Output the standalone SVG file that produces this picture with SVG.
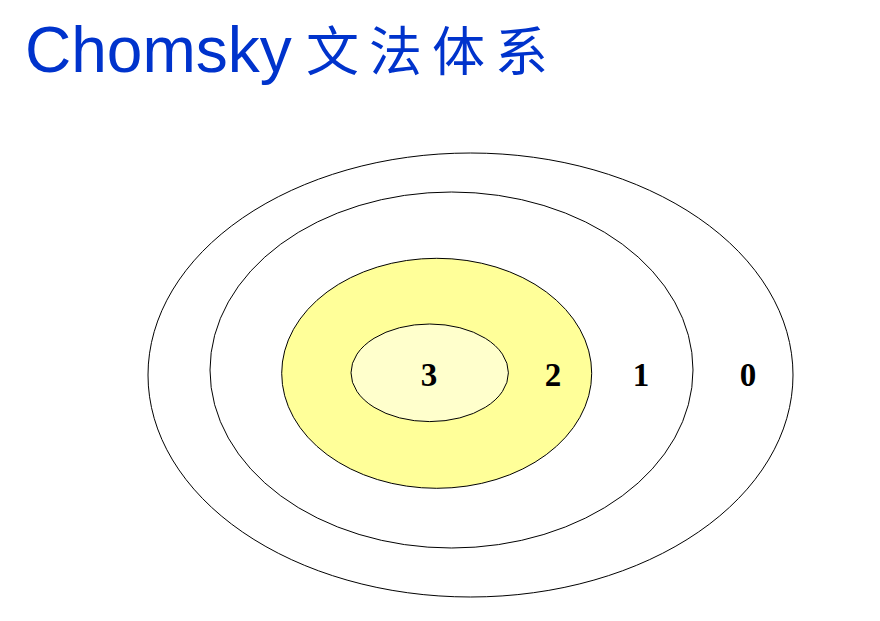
<svg xmlns="http://www.w3.org/2000/svg" width="880" height="621" viewBox="0 0 880 621">
<style>
.ring{stroke:#000;stroke-width:1}
.lbl{font-family:"Liberation Serif","Times New Roman",serif;font-weight:bold;font-size:33px;fill:#000;text-anchor:middle}
.title{fill:#0033CC}
</style>
<rect width="880" height="621" fill="#fff"/>
<g id="title">
<text class="title" x="25" y="72" font-family="'Liberation Sans',Arial,sans-serif" font-size="64">Chomsky</text>
<text class="title" x="306" y="71" font-family="'Noto Sans CJK SC',sans-serif" font-size="53" letter-spacing="10">文法体系</text>
</g>
<g id="type0">
<ellipse class="ring" cx="470.5" cy="375" rx="322.5" ry="222" fill="#fff"/>
<text class="lbl" x="748" y="386">0</text>
</g>
<g id="type1">
<ellipse class="ring" cx="451.5" cy="370" rx="241.5" ry="178" fill="#fff"/>
<text class="lbl" x="641" y="386">1</text>
</g>
<g id="type2">
<ellipse class="ring" cx="436.7" cy="373.3" rx="155" ry="115" fill="#FFFF99"/>
<text class="lbl" x="553" y="386">2</text>
</g>
<g id="type3">
<ellipse class="ring" cx="429.7" cy="372.8" rx="78.7" ry="48.8" fill="#FFFFCC"/>
<text class="lbl" x="429" y="386">3</text>
</g>
<g id="connectors"></g>
</svg>
